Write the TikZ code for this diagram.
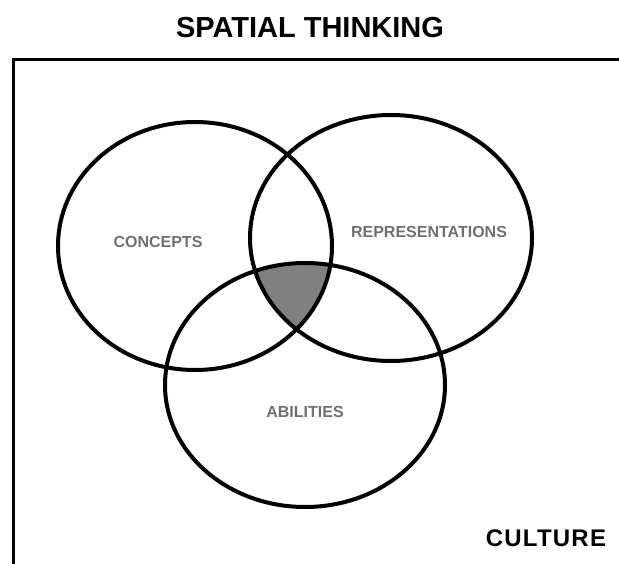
\documentclass[tikz,border=0pt]{standalone}
\usepackage{fontspec}
\setmainfont{Liberation Sans}
\definecolor{labelgray}{RGB}{112,112,112}
\definecolor{coregray}{RGB}{128,128,128}
\begin{document}
\begin{tikzpicture}[x=1pt,y=-1pt,
  ring/.style={line width=4pt},
  frameline/.style={line width=3pt},
  setlabel/.style={font=\bfseries\fontsize{16}{18}\selectfont, text=labelgray, inner sep=0pt},
  headline/.style={font=\bfseries\fontsize{29}{33}\selectfont, inner sep=0pt},
  cornerlabel/.style={font=\bfseries\fontsize{24}{28}\selectfont\addfontfeature{LetterSpace=5}, inner sep=0pt}]
  \useasboundingbox (0,0) rectangle (619,564);

  % centres of the three sets
  \coordinate (cC) at (195,246);
  \coordinate (cR) at (391,238);
  \coordinate (cA) at (305,385);

  % open frame: top and left sides
  \coordinate (frameTR) at (625,60);
  \coordinate (frameTL) at (13,60);
  \coordinate (frameBL) at (13,570);
  \draw[frameline] (frameTR) -- (frameTL) -- (frameBL);

  % common region of all three sets
  \begin{scope}
    \clip (cC) ellipse [x radius=137pt, y radius=124pt];
    \clip (cR) ellipse [x radius=141pt, y radius=123pt];
    \fill[coregray] (cA) ellipse [x radius=140pt, y radius=122pt];
  \end{scope}

  % the three sets
  \draw[ring] (cC) ellipse [x radius=137pt, y radius=124pt];
  \draw[ring] (cR) ellipse [x radius=141pt, y radius=123pt];
  \draw[ring] (cA) ellipse [x radius=140pt, y radius=122pt];

  % labels
  \node[headline] (title) at (310,28) {SPATIAL THINKING};
  \node[setlabel] (concepts) at (158,242) {CONCEPTS};
  \node[setlabel] (repr) at (429,232) {REPRESENTATIONS};
  \node[setlabel] (abil) at (305,412) {ABILITIES};
  \node[cornerlabel] (culture) at (546,538) {CULTURE};
\end{tikzpicture}
\end{document}
